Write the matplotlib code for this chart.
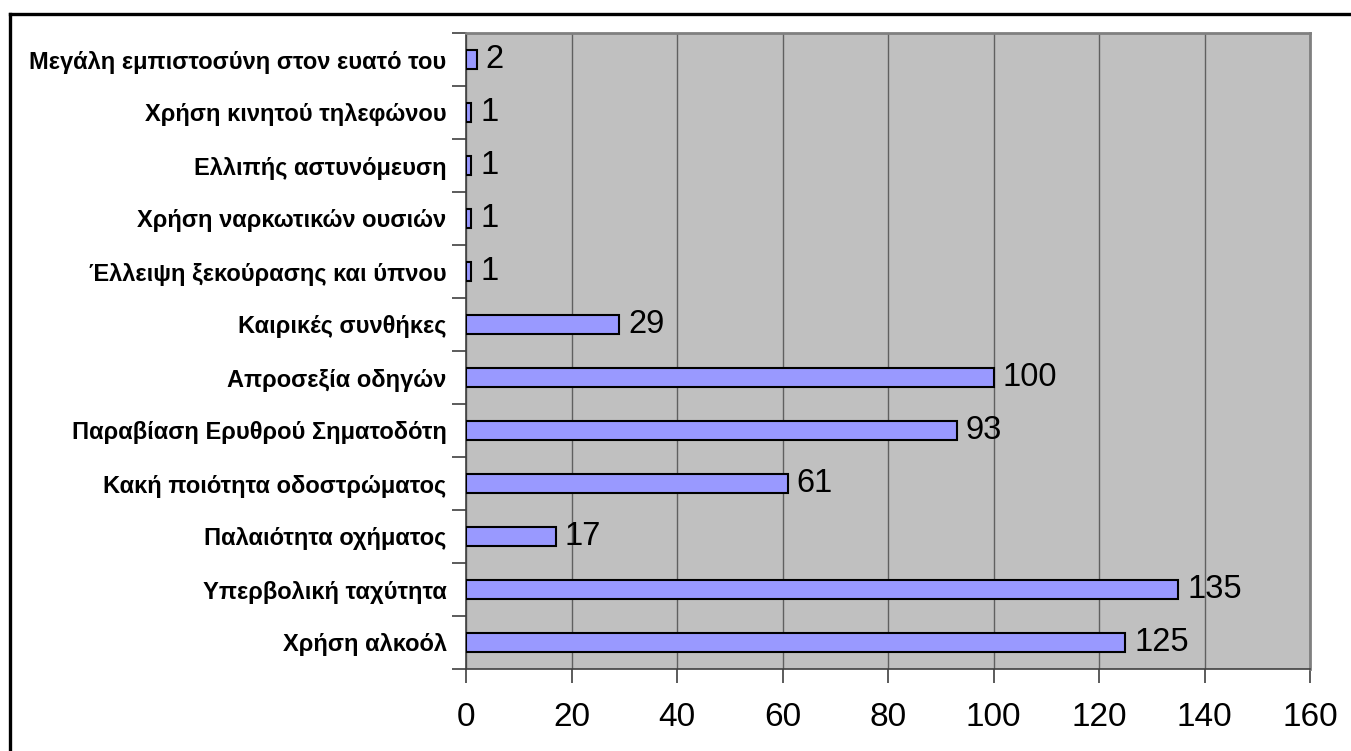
import matplotlib
matplotlib.use("Agg")
import matplotlib.pyplot as plt
from matplotlib.lines import Line2D
import numpy as np

# Causes of road accidents (listed bottom to top)
causes = [
    "Χρήση αλκοόλ",
    "Υπερβολική ταχύτητα",
    "Παλαιότητα οχήματος",
    "Κακή ποιότητα οδοστρώματος",
    "Παραβίαση Ερυθρού Σηματοδότη",
    "Απροσεξία οδηγών",
    "Καιρικές συνθήκες",
    "Έλλειψη ξεκούρασης και ύπνου",
    "Χρήση ναρκωτικών ουσιών",
    "Ελλιπής αστυνόμευση",
    "Χρήση κινητού τηλεφώνου",
    "Μεγάλη εμπιστοσύνη στον ευατό του",
]
counts = [125, 135, 17, 61, 93, 100, 29, 1, 1, 1, 1, 2]
x_ticks = [0, 20, 40, 60, 80, 100, 120, 140, 160]

plt.rcParams["font.family"] = ["Liberation Sans", "DejaVu Sans"]

W, H = 1351, 751
fig = plt.figure(figsize=(W / 100, H / 100), dpi=100)
fig.patch.set_facecolor("white")

left, right, top, bottom = 466, 1310, 33, 669
ax = fig.add_axes([left / W, 1 - bottom / H, (right - left) / W, (bottom - top) / H])
ax.set_facecolor("#C0C0C0")

y = np.arange(len(causes))
bars = ax.barh(y, counts, height=0.36, color="#9999FF", edgecolor="black",
               linewidth=1.5, zorder=3)

for yi, v in zip(y, counts):
    ax.annotate(str(v), xy=(v, yi), xytext=(6.5, 0), textcoords="offset points",
                ha="left", va="center", fontsize=23.5, color="black", zorder=4)

ax.set_xlim(0, 160)
ax.set_ylim(-0.5, len(causes) - 0.5)
ax.set_xticks(x_ticks)
ax.set_xticklabels([str(t) for t in x_ticks], fontsize=24)
ax.xaxis.grid(True, color="#606060", linewidth=1.0, zorder=1)
ax.set_axisbelow(True)

# tick marks between categories, labels at category centres
ax.set_yticks(np.arange(-0.5, len(causes), 1.0))
ax.set_yticklabels([])
ax.set_yticks(y, minor=True)
ax.set_yticklabels(causes, minor=True, fontsize=17, fontweight="bold")
ax.tick_params(axis="y", which="major", length=10, width=1.2, color="#404040")
ax.tick_params(axis="y", which="minor", length=0, pad=14)
ax.tick_params(axis="x", which="major", length=10, width=1.2, color="#404040",
               pad=14)

for side in ("left", "bottom"):
    ax.spines[side].set_color("#404040")
    ax.spines[side].set_linewidth(1.2)
for side in ("right", "top"):
    ax.spines[side].set_color("#808080")
    ax.spines[side].set_linewidth(2.0)

# outer frame
fx, fy = 10 / W, 1 - 14 / H
fig.add_artist(Line2D([fx, fx], [0, fy], transform=fig.transFigure,
                      color="black", linewidth=2.4))
fig.add_artist(Line2D([fx, 1], [fy, fy], transform=fig.transFigure,
                      color="black", linewidth=2.4))

fig.savefig("out.png", dpi=100, facecolor="white")
